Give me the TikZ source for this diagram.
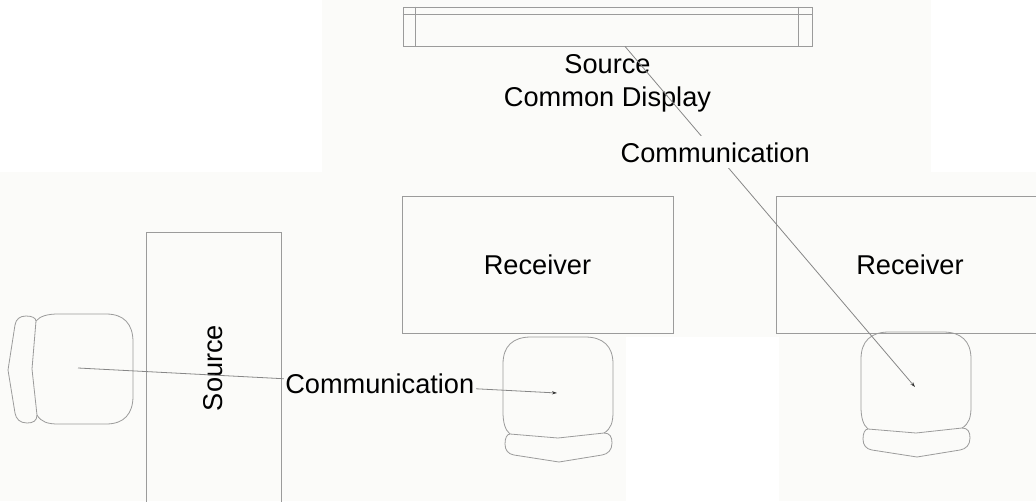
\documentclass[tikz,border=0pt]{standalone}
\usepackage{fontspec}
\setmainfont{Liberation Sans}
\usetikzlibrary{arrows.meta}
\definecolor{bgoff}{RGB}{251,251,249}
\definecolor{linegray}{RGB}{155,155,155}
\definecolor{conngray}{RGB}{135,135,135}
\begin{document}
\begin{tikzpicture}[x=1pt,y=-1pt,
  outline/.style={draw=linegray, line width=0.8pt},
  lbl/.style={font=\fontsize{27.2}{33}\selectfont, text=black, inner sep=0pt},
  box/.style={outline, rectangle, inner sep=0pt, lbl},
  conn/.style={draw=conngray, line width=0.8pt, -{Stealth[length=5pt,width=3.2pt,color=black!80]}},
  commlbl/.style={lbl, fill=bgoff, inner xsep=1.5pt, inner ysep=6pt},
  chair/.pic={
    % seat
    \draw[outline] (-47,42) .. controls (-52,38) and (-54,30) .. (-54,20)
      -- (-54,-28) .. controls (-54,-46) and (-44,-55) .. (-26,-55)
      -- (28,-55) .. controls (46,-55) and (56,-46) .. (56,-28)
      -- (56,20) .. controls (56,30) and (54,37) .. (47,41);
    % cushion / back
    \draw[outline] (-47,42) -- (1,46) -- (47,41)
      .. controls (53,41) and (55,45) .. (55,51)
      .. controls (55,58) and (51,62) .. (45,63)
      -- (2,70) -- (-43,63)
      .. controls (-49,62) and (-52,58) .. (-52,52)
      .. controls (-52,46) and (-50,42) .. (-47,42);
  }
]
\useasboundingbox (0,0) rectangle (1036,501);
\clip (0,0) rectangle (1036,501);
% background
\fill[bgoff] (0,0) rectangle (1036,501);
\fill[white] (0,0) rectangle (322,172);
\fill[white] (931,0) rectangle (1036,172);
\fill[white] (626,337) rectangle (779,501);

% common display
\node[box, minimum width=409pt, minimum height=39pt] (display) at (607.5,26.5) {};
\draw[outline] ([yshift=-8pt]display.north west) -- ([yshift=-8pt]display.north east);
\draw[outline] ([xshift=13pt]display.north west) -- ([xshift=13pt]display.south west);
\draw[outline] ([xshift=-14pt]display.north east) -- ([xshift=-14pt]display.south east);
\node[lbl, align=center] (dispname) at (607.5,83.5) {Source\\Common Display};

% receivers
\node[box, minimum width=271pt, minimum height=137pt] (rec1) at (537.5,264.5) {Receiver};
\node[box, minimum width=268pt, minimum height=137pt] (rec2) at (910,264.5) {Receiver};

% source table
\node[box, rotate=90, minimum width=272pt, minimum height=135pt] (srctable) at (213.5,368) {Source};

% chairs
\pic at (557,392) {chair};
\pic at (915,387) {chair};
\pic[rotate=-90] at (78,368) {chair};

\coordinate (lc) at (78,368);
\coordinate (mc) at (557,393);
\coordinate (rc) at (915,387);
\coordinate (dispout) at ([xshift=17.5pt]display.south);

% connectors
\draw[conn] (lc) -- node[commlbl, pos=0.63] (comm1) {Communication} (mc);
\draw[conn] (dispout) -- node[commlbl, pos=0.311] (comm2) {Communication} (rc);
\end{tikzpicture}
\end{document}
